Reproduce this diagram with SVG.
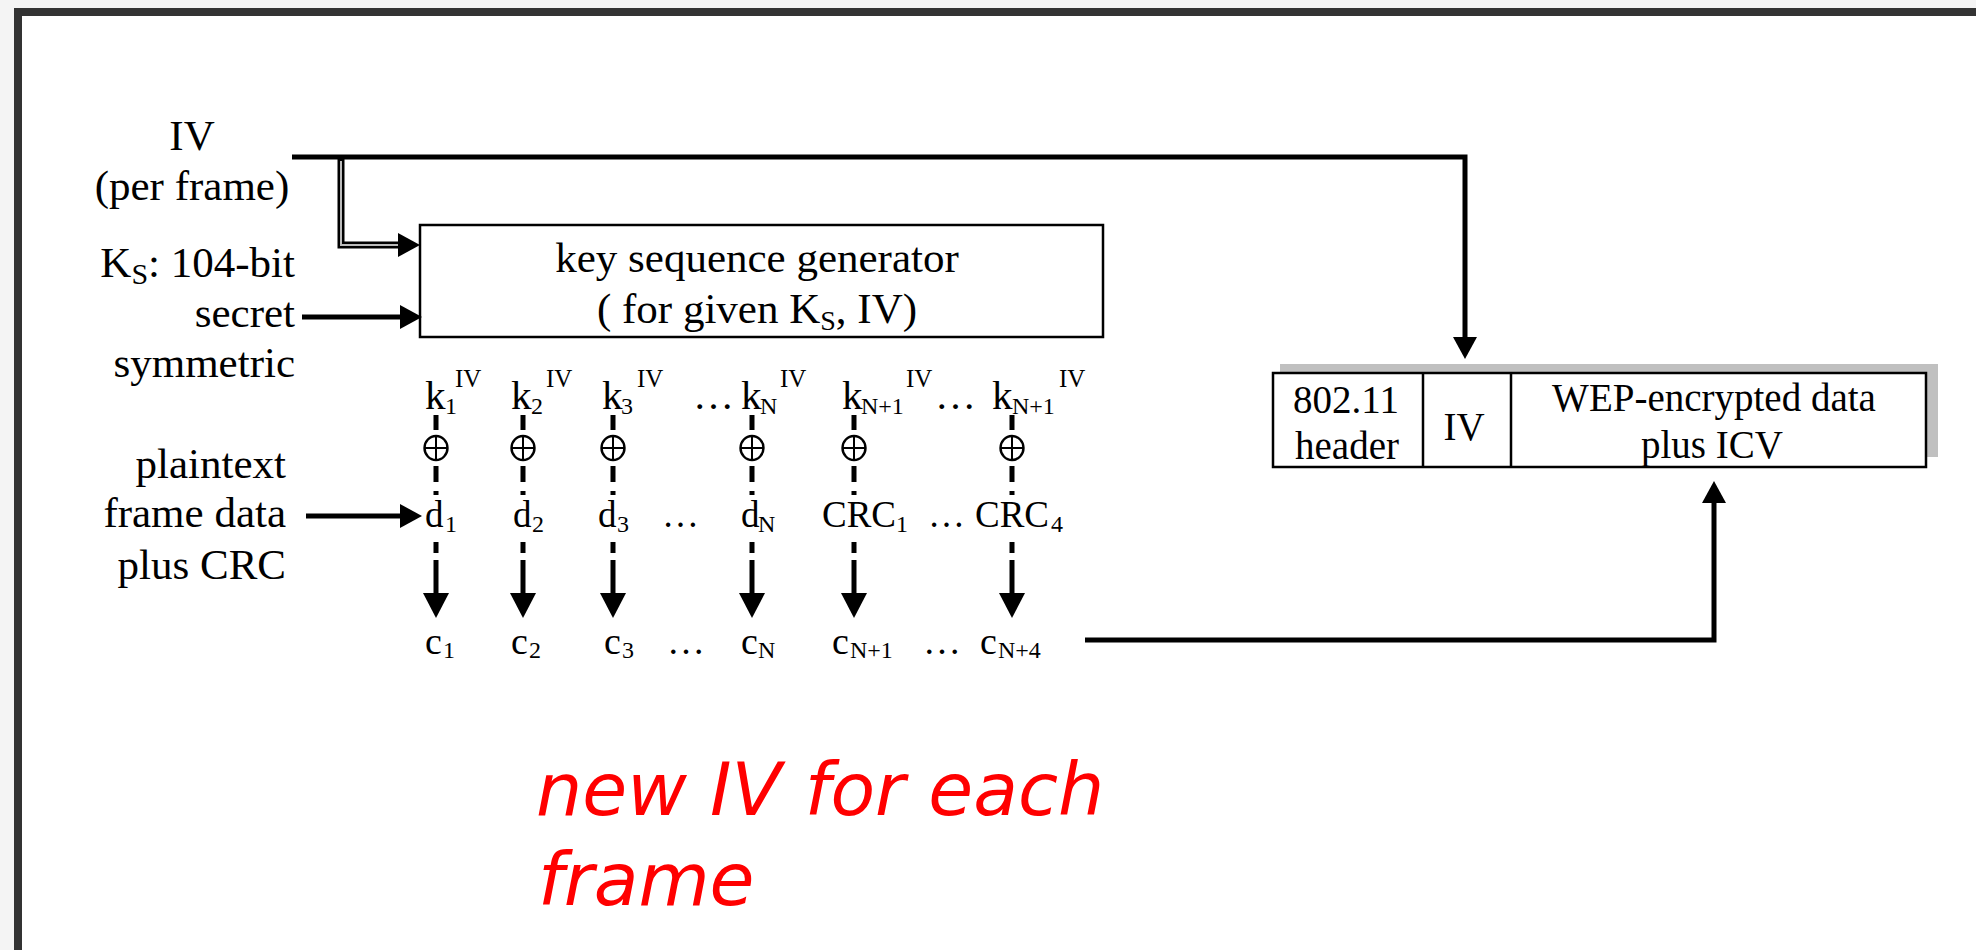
<svg xmlns="http://www.w3.org/2000/svg" width="1976" height="950" viewBox="0 0 1976 950">
<defs>
<marker id="ah" viewBox="0 0 22 24" refX="0" refY="12" markerWidth="22" markerHeight="24" markerUnits="userSpaceOnUse" orient="auto"><path d="M0,0 L22,12 L0,24 Z" fill="#000"/></marker>
<marker id="ahs" viewBox="0 0 25 26" refX="0" refY="13" markerWidth="25" markerHeight="26" markerUnits="userSpaceOnUse" orient="auto"><path d="M0,0 L25,13 L0,26 Z" fill="#000"/></marker>
<g id="xor"><ellipse cx="0" cy="0" rx="11.5" ry="12" fill="#fff" stroke="#000" stroke-width="2.4"/><path d="M-11.5,0 H11.5 M0,-12 V12" stroke="#000" stroke-width="2"/></g>
</defs>
<style>
.t{font-family:"Liberation Serif","Times New Roman",serif;fill:#000}
.lbl{font-size:43px}
.box{fill:#fff;stroke:#000;stroke-width:2.5}
.wire{fill:none;stroke:#000;stroke-width:5}
.dash{fill:none;stroke:#000;stroke-width:5}
.kr{font-size:41px}
.dr{font-size:37px}
.cr{font-size:38px}
.sb{font-size:24px}
.sp{font-size:25px}
.fr{font-size:39px}
.red{font-family:"DejaVu Sans",sans-serif;font-style:oblique;font-size:73px;fill:#ff0000}
</style>
<rect width="1976" height="950" fill="#f4f4f4"/>
<rect x="14" y="8" width="1970" height="950" fill="#333"/>
<rect x="22" y="16" width="1960" height="940" fill="#fff"/>

<g id="iv-label" class="t lbl" text-anchor="middle">
<text x="192" y="150">IV</text>
<text x="192" y="200">(per frame)</text>
</g>
<g id="key-label" class="t lbl" text-anchor="end">
<text x="295" y="277">K<tspan font-size="30" dy="7">S</tspan><tspan dy="-7">: 104-bit</tspan></text>
<text x="295" y="327">secret</text>
<text x="295" y="377">symmetric</text>
</g>
<g id="plaintext-label" class="t lbl" text-anchor="end">
<text x="286" y="478">plaintext</text>
<text x="286" y="527">frame data</text>
<text x="286" y="579">plus CRC</text>
</g>

<g id="keygen">
<rect class="box" x="420" y="225" width="683" height="112"/>
<text class="t lbl" x="757" y="272" text-anchor="middle">key sequence generator</text>
<text class="t lbl" x="757" y="323" text-anchor="middle">( for given K<tspan font-size="28" dy="7">S</tspan><tspan dy="-7">, IV)</tspan></text>
</g>

<g id="frame">
<rect x="1280" y="364" width="658" height="93" fill="#c0c0c0"/>
<rect class="box" x="1273" y="373" width="653" height="94"/>
<path d="M1423,373 V467 M1511,373 V467" stroke="#000" stroke-width="2.5"/>
<g class="t fr" text-anchor="middle">
<text x="1346" y="413">802.11</text>
<text x="1347" y="459">header</text>
<text x="1464" y="440">IV</text>
<text x="1714" y="411">WEP-encrypted data</text>
<text x="1712" y="458">plus ICV</text>
</g>
</g>

<g id="keystream" class="t">
<text class="kr" x="425" y="409">k</text><text class="sb" x="445" y="414">1</text><text class="sp" x="455" y="387">IV</text>
<text class="kr" x="511" y="409">k</text><text class="sb" x="531" y="414">2</text><text class="sp" x="546" y="387">IV</text>
<text class="kr" x="602" y="409">k</text><text class="sb" x="621" y="414">3</text><text class="sp" x="637" y="387">IV</text>
<text class="kr" x="693" y="409">…</text>
<text class="kr" x="741" y="409">k</text><text class="sb" x="760" y="414">N</text><text class="sp" x="780" y="387">IV</text>
<text class="kr" x="842" y="409">k</text><text class="sb" x="861" y="414">N+1</text><text class="sp" x="906" y="387">IV</text>
<text class="kr" x="935" y="409">…</text>
<text class="kr" x="992" y="409">k</text><text class="sb" x="1012" y="414">N+1</text><text class="sp" x="1059" y="387">IV</text>
</g>

<g id="xors">
<use href="#xor" x="436" y="448"/>
<use href="#xor" x="523" y="448"/>
<use href="#xor" x="613" y="448"/>
<use href="#xor" x="752" y="448"/>
<use href="#xor" x="854" y="448"/>
<use href="#xor" x="1012" y="448"/>
</g>

<g id="plaintext-row" class="t">
<text class="dr" x="425" y="527">d</text><text class="sb" x="445" y="532">1</text>
<text class="dr" x="513" y="527">d</text><text class="sb" x="532" y="532">2</text>
<text class="dr" x="598" y="527">d</text><text class="sb" x="617" y="532">3</text>
<text class="dr" x="662" y="527">…</text>
<text class="dr" x="741" y="527">d</text><text class="sb" x="758" y="532">N</text>
<text class="dr" x="822" y="527">CRC</text><text class="sb" x="896" y="532">1</text>
<text class="dr" x="928" y="527">…</text>
<text class="dr" x="975" y="527">CRC</text><text class="sb" x="1051" y="532">4</text>
</g>

<g id="cipher-row" class="t">
<text class="cr" x="425" y="654">c</text><text class="sb" x="443" y="658">1</text>
<text class="cr" x="511" y="654">c</text><text class="sb" x="529" y="658">2</text>
<text class="cr" x="604" y="654">c</text><text class="sb" x="622" y="658">3</text>
<text class="cr" x="667" y="654">…</text>
<text class="cr" x="741" y="654">c</text><text class="sb" x="758" y="658">N</text>
<text class="cr" x="832" y="654">c</text><text class="sb" x="850" y="658">N+1</text>
<text class="cr" x="923" y="654">…</text>
<text class="cr" x="980" y="654">c</text><text class="sb" x="998" y="658">N+4</text>
</g>

<g id="connectors">
<path class="wire" d="M292,157 H1465 V337" marker-end="url(#ah)"/>
<path d="M341,157 V245 H398" fill="none" stroke="#000" stroke-width="7" marker-end="url(#ah)"/>
<path d="M341,161 V245 H398" fill="none" stroke="#bbb" stroke-width="2"/>
<path class="wire" d="M302,317 H400" marker-end="url(#ah)"/>
<path class="wire" d="M306,516 H400" marker-end="url(#ah)"/>
<path class="wire" d="M1085,640 H1714 V503" marker-end="url(#ah)"/>
<path class="dash" d="M436,415 V430 M436,466 V482 M436,491 V495 M436,542 V553 M523,415 V430 M523,466 V482 M523,491 V495 M523,542 V553 M613,415 V430 M613,466 V482 M613,491 V495 M613,542 V553 M752,415 V430 M752,466 V482 M752,491 V495 M752,542 V553 M854,415 V430 M854,466 V482 M854,491 V495 M854,542 V553 M1012,415 V430 M1012,466 V482 M1012,491 V495 M1012,542 V553"/>
<path class="dash" d="M436,560 V593" marker-end="url(#ahs)"/>
<path class="dash" d="M523,560 V593" marker-end="url(#ahs)"/>
<path class="dash" d="M613,560 V593" marker-end="url(#ahs)"/>
<path class="dash" d="M752,560 V593" marker-end="url(#ahs)"/>
<path class="dash" d="M854,560 V593" marker-end="url(#ahs)"/>
<path class="dash" d="M1012,560 V593" marker-end="url(#ahs)"/>
</g>

<g id="note">
<text class="red" x="536" y="815">new IV for each</text>
<text class="red" x="538" y="905">frame</text>
</g>
</svg>
